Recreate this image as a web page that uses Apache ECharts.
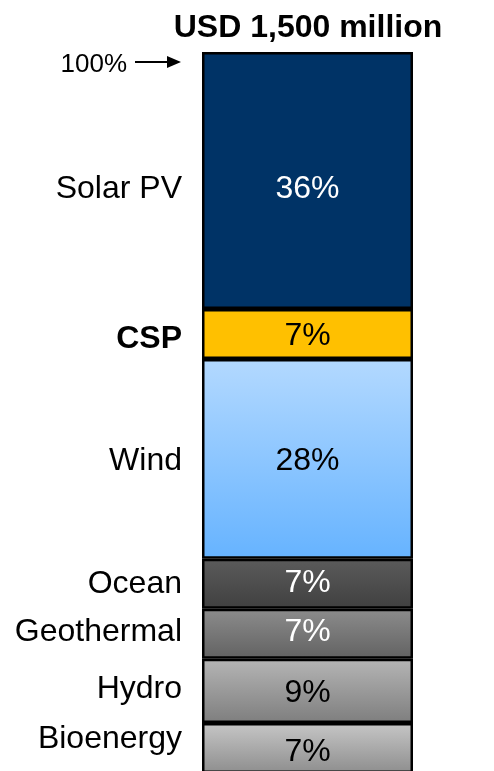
<!DOCTYPE html>
<html>
<head>
<meta charset="utf-8">
<style>
  html, body { margin: 0; padding: 0; background: #ffffff; }
  #chart { width: 494px; height: 771px; }
</style>
<script src="https://cdn.jsdelivr.net/npm/echarts@6/dist/echarts.min.js"></script>
</head>
<body>
<div id="chart"></div>
<script>
// Technology split of the total, top of the column first
const categories = ['Solar PV', 'CSP', 'Wind', 'Ocean', 'Geothermal', 'Hydro', 'Bioenergy'];
const shares = [36, 7, 28, 7, 7, 9, 7];
const totalLabel = 'USD 1,500 million';
const topMarkerLabel = '100%';

// Styling for each technology
const FONT = '"Liberation Sans", Arial, sans-serif';
const styles = {
  'Solar PV':   { fill: '#003366', text: '#ffffff', valueDy: 9, nameDy: 9 },
  'CSP':        { fill: '#FFC000', text: '#000000', valueDy: 2, nameDy: 5, bold: true },
  'Wind':       { fill: ['#B3D9FF', '#66B3FF'], text: '#000000', valueDy: 2, nameDy: 2 },
  'Ocean':      { fill: ['#5B5B5B', '#404040'], text: '#ffffff', valueDy: -1, nameDy: 0 },
  'Geothermal': { fill: ['#8C8C8C', '#626262'], text: '#ffffff', valueDy: -2, nameDy: -2 },
  'Hydro':      { fill: ['#B5B5B5', '#7E7E7E'], text: '#000000', valueDy: 2, nameDy: -2 },
  'Bioenergy':  { fill: ['#C6C6C6', '#8E8E8E'], text: '#000000', valueDy: 4, nameDy: -9 }
};

function fillOf(f) {
  if (typeof f === 'string') return f;
  return new echarts.graphic.LinearGradient(0, 0, 0, 1, [
    { offset: 0, color: f[0] },
    { offset: 1, color: f[1] }
  ]);
}

const sum = shares.reduce((a, b) => a + b, 0);

// Stack from the bottom up: last category first
const order = categories.map((c, i) => i).reverse();

const series = [];
order.forEach(i => {
  const name = categories[i];
  const st = styles[name];
  series.push({
    type: 'bar',
    name: name,
    stack: 'share',
    barWidth: '100%',
    data: [shares[i]],
    itemStyle: { color: fillOf(st.fill), borderColor: '#000000', borderWidth: 2.5 },
    label: {
      show: true,
      position: 'inside',
      formatter: p => p.value + '%',
      color: st.text,
      fontFamily: FONT,
      fontSize: 32,
      offset: [0, st.valueDy]
    },
    silent: true
  });
});
// Transparent twin stack carrying the technology names to the left of the column
order.forEach(i => {
  const name = categories[i];
  const st = styles[name];
  series.push({
    type: 'bar',
    name: name + ' label',
    stack: 'names',
    barWidth: '100%',
    barGap: '-100%',
    data: [shares[i]],
    itemStyle: { color: 'rgba(0,0,0,0)' },
    label: {
      show: true,
      position: 'left',
      distance: 20,
      formatter: () => name,
      color: '#000000',
      fontFamily: FONT,
      fontSize: 32,
      fontWeight: st.bold ? 'bold' : 'normal',
      offset: [0, st.nameDy]
    },
    silent: true,
    z: 3
  });
});

const chart = echarts.init(document.getElementById('chart'), null, { renderer: 'canvas' });
chart.setOption({
  animation: false,
  backgroundColor: '#ffffff',
  grid: { left: 202, width: 211, top: 52, height: 721, outerBoundsMode: 'none', containLabel: false },
  xAxis: { type: 'category', data: ['total'], show: false, boundaryGap: true },
  yAxis: { type: 'value', min: 0, max: sum, show: false },
  series: series,
  graphic: [
    {
      type: 'text',
      style: {
        x: 308, y: 28,
        text: totalLabel,
        fill: '#000000',
        font: 'bold 32px ' + FONT,
        textAlign: 'center',
        textVerticalAlign: 'middle'
      }
    },
    {
      type: 'text',
      style: {
        x: 127, y: 65,
        text: topMarkerLabel,
        fill: '#000000',
        font: '26px ' + FONT,
        textAlign: 'right',
        textVerticalAlign: 'middle'
      }
    },
    {
      type: 'line',
      shape: { x1: 135, y1: 62, x2: 170, y2: 62 },
      style: { stroke: '#000000', lineWidth: 2 }
    },
    {
      type: 'polygon',
      shape: { points: [[167, 56], [181, 62], [167, 68]] },
      style: { fill: '#000000' }
    }
  ]
});
</script>
</body>
</html>
